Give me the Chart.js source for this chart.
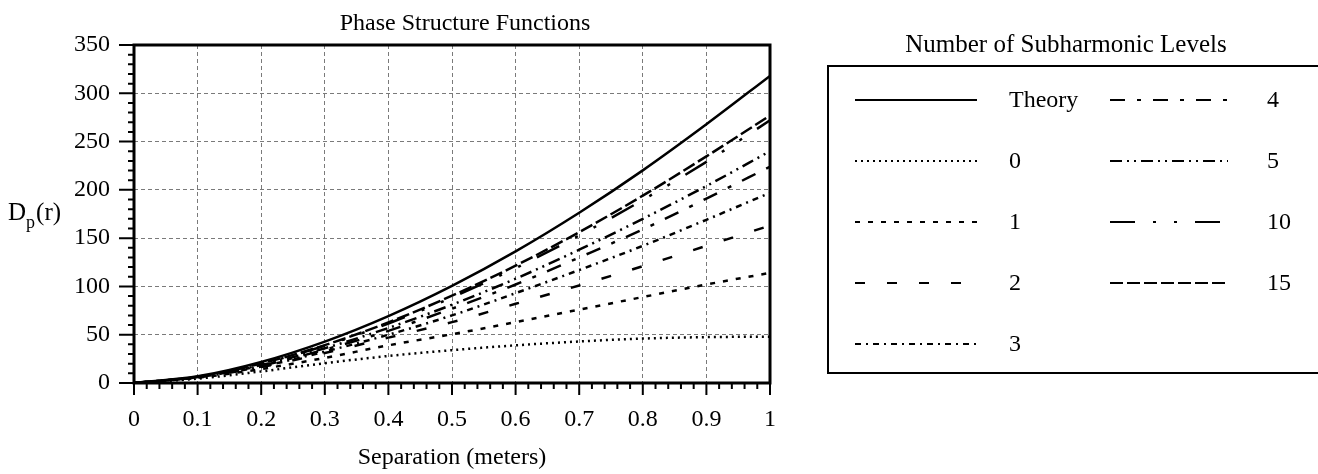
<!DOCTYPE html>
<html>
<head>
<meta charset="utf-8">
<title>Phase Structure Functions</title>
<script src="https://cdn.jsdelivr.net/npm/chart.js@4.4.1/dist/chart.umd.min.js"></script>
<style>
  html, body { margin: 0; padding: 0; background: #fff; }
  canvas { display: block; }
</style>
</head>
<body>
<canvas id="phaseChart" width="1318" height="474"></canvas>
<script>
// Separation in meters (x values)
const separation = [0, 0.1, 0.2, 0.3, 0.4, 0.5, 0.6, 0.7, 0.8, 0.9, 1];

// Phase structure function values
const theory = [0, 6.9, 21.8, 42.9, 69.3, 100.6, 136.3, 176.3, 220.2, 267.9, 318];
const levels0 = [0, 4.5, 12, 20.5, 28, 34, 39, 43, 46, 47.5, 48];
const levels1 = [0, 5.5, 14.5, 26, 39, 50.5, 63, 76, 89, 102, 114];
const levels2 = [0, 6, 16.5, 31, 47, 63, 82, 101, 121, 142, 163];
const levels3 = [0, 6, 17, 32.5, 50, 70, 93, 117, 142, 169, 197];
const levels4 = [0, 6, 18, 34.5, 54, 77, 102, 130, 159, 191, 224];
const levels5 = [0, 6.1, 18.6, 36, 57, 81, 108, 138, 170, 204, 240];
const levels10 = [0, 6.4, 20, 38.6, 61.6, 88.6, 119, 152.8, 189.5, 229, 272];
const levels15 = [0, 6.5, 20.2, 39.2, 62.7, 90.4, 121.5, 156.2, 194, 234.7, 277];

const seriesLabels = ['Theory', '0', '1', '2', '3', '4', '5', '10', '15'];
const seriesValues = [theory, levels0, levels1, levels2, levels3, levels4, levels5, levels10, levels15];
const seriesDashes = [
  [],                      // theory: solid
  [2, 4],                  // 0: dotted
  [5, 8],                  // 1: short dash
  [10, 22],                // 2: dash
  [6, 5, 2, 5],            // 3: dash dot
  [15, 12, 4, 12],         // 4: long dash short dash
  [12, 5, 2, 5, 2, 5],     // 5: dash dot dot
  [25, 18, 3, 18, 3, 18],  // 10: long dash dot dot
  [13, 4],                 // 15: long dash
];

const FONT = "'Liberation Serif', 'Times New Roman', serif";

// Frame, minor ticks, chart title, y title and boxed legend
const decorations = {
  id: 'decorations',
  afterDraw(chart) {
    const { ctx, chartArea: a, scales: { x, y } } = chart;
    ctx.save();
    ctx.strokeStyle = '#000';
    ctx.fillStyle = '#000';

    // plot frame
    ctx.lineWidth = 3;
    ctx.strokeRect(a.left, a.top, a.right - a.left, a.bottom - a.top);

    // axis ticks (major + minor)
    ctx.lineWidth = 2;
    ctx.beginPath();
    for (let i = 0; i <= 50; i++) {
      const px = x.getPixelForValue(i / 50);
      const len = i % 5 === 0 ? 12 : 6;
      ctx.moveTo(px, a.bottom);
      ctx.lineTo(px, a.bottom + len);
    }
    for (let v = 0; v <= 350; v += 10) {
      const py = y.getPixelForValue(v);
      const len = v % 50 === 0 ? 15 : 6;
      ctx.moveTo(a.left, py);
      ctx.lineTo(a.left - len, py);
    }
    ctx.stroke();

    // chart title
    ctx.font = '24px ' + FONT;
    ctx.textAlign = 'center';
    ctx.textBaseline = 'alphabetic';
    ctx.fillText('Phase Structure Functions', 465, 30);

    // y axis title D_p(r)
    ctx.textAlign = 'left';
    ctx.font = '25px ' + FONT;
    let tx = 8;
    const ty = 220;
    ctx.fillText('D', tx, ty);
    tx += ctx.measureText('D').width;
    ctx.font = '18px ' + FONT;
    ctx.fillText('p', tx, ty + 8);
    tx += ctx.measureText('p').width + 1;
    ctx.font = '25px ' + FONT;
    ctx.fillText('(r)', tx, ty);

    // legend
    ctx.textAlign = 'center';
    ctx.font = '25px ' + FONT;
    ctx.fillText('Number of Subharmonic Levels', 1066, 52);
    ctx.lineWidth = 2;
    ctx.beginPath();
    ctx.moveTo(1330, 66);
    ctx.lineTo(828, 66);
    ctx.lineTo(828, 373);
    ctx.lineTo(1330, 373);
    ctx.stroke();

    const rowY = [100, 161, 222, 283, 344];
    const cols = [
      { x0: 855, x1: 977, tx: 1009 },
      { x0: 1110, x1: 1228, tx: 1267 },
    ];
    ctx.font = '24px ' + FONT;
    ctx.textAlign = 'left';
    ctx.textBaseline = 'middle';
    chart.data.datasets.forEach((ds, i) => {
      const col = cols[i < 5 ? 0 : 1];
      const ry = rowY[i < 5 ? i : i - 5];
      ctx.setLineDash(ds.borderDash);
      ctx.lineWidth = 2;
      ctx.beginPath();
      ctx.moveTo(col.x0, ry);
      ctx.lineTo(col.x1, ry);
      ctx.stroke();
      ctx.setLineDash([]);
      ctx.fillText(ds.label, col.tx, ry + 1);
    });
    ctx.restore();
  },
};

const datasets = seriesLabels.map((label, i) => ({
  label: label,
  data: separation.map((sx, j) => ({ x: sx, y: seriesValues[i][j] })),
  borderColor: '#000',
  borderWidth: 2.5,
  borderDash: seriesDashes[i],
  pointRadius: 0,
  fill: false,
  cubicInterpolationMode: 'monotone',
}));

new Chart(document.getElementById('phaseChart'), {
  type: 'line',
  data: { datasets: datasets },
  options: {
    responsive: false,
    animation: false,
    layout: { padding: { top: 45, right: 548, left: 0, bottom: 0 } },
    plugins: {
      legend: { display: false },
      title: { display: false },
      tooltip: { enabled: false },
    },
    scales: {
      x: {
        type: 'linear',
        min: 0,
        max: 1,
        ticks: {
          stepSize: 0.1,
          padding: 22,
          color: '#000',
          font: { family: FONT, size: 24 },
          maxRotation: 0,
          callback: (v) => String(Math.round(v * 10) / 10),
        },
        grid: { color: '#7a7a7a', lineWidth: 1, drawTicks: false },
        border: { display: false, dash: [4, 3] },
        title: {
          display: true,
          text: 'Separation (meters)',
          color: '#000',
          font: { family: FONT, size: 24 },
          padding: { top: 0, bottom: 2 },
        },
        afterFit: (scale) => { scale.height = 91; },
      },
      y: {
        min: 0,
        max: 350,
        ticks: {
          stepSize: 50,
          padding: 24,
          color: '#000',
          font: { family: FONT, size: 24 },
        },
        grid: { color: '#7a7a7a', lineWidth: 1, drawTicks: false },
        border: { display: false, dash: [4, 3] },
        afterFit: (scale) => { scale.width = 134; },
      },
    },
  },
  plugins: [decorations],
});
</script>
</body>
</html>
